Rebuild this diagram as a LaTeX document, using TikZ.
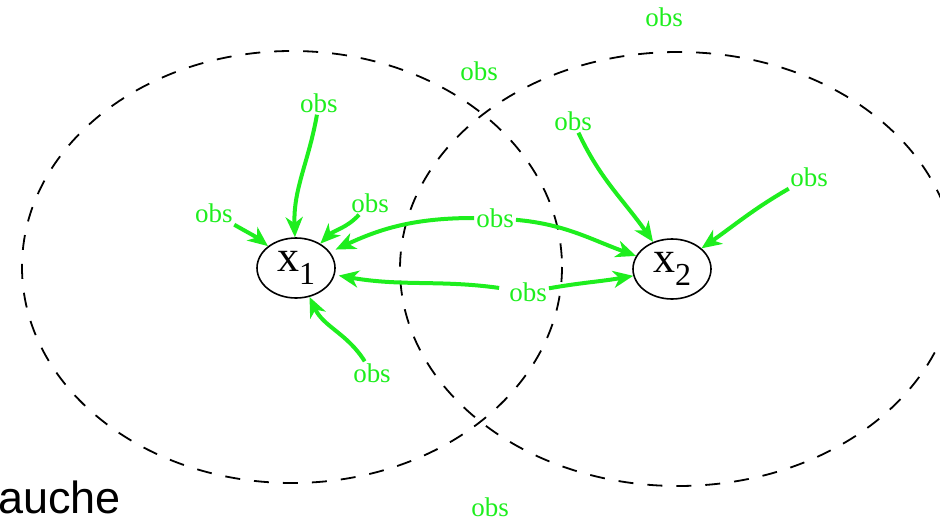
\documentclass[tikz,border=0pt]{standalone}
\usepackage{fontspec}
\setmainfont{Liberation Serif}
\newfontfamily\labelfont{Liberation Sans}
\usetikzlibrary{arrows.meta,shapes.geometric}
\definecolor{obsgreen}{RGB}{30,238,30}
\tikzset{
  var/.style={draw,ellipse,line width=1.6pt,minimum width=78pt,minimum height=60pt,
    inner sep=0pt,font=\fontsize{44}{44}\selectfont},
  obs/.style={text=obsgreen,inner sep=2pt,font=\fontsize{27}{27}\selectfont},
  seen/.style={obsgreen,line width=4pt,-{Stealth[length=20pt,width=17pt,inset=6pt]}},
  zone/.style={dash pattern=on 15pt off 14pt,line width=1.8pt}
}
\begin{document}
\begin{tikzpicture}[x=1pt,y=-1pt]
  \useasboundingbox (0,0) rectangle (940,522);
  \clip (0,0) rectangle (940,522);
  % the two neighbourhoods
  \draw[zone] (292,267) ellipse (270 and 216);
  \draw[zone] (678,269) ellipse (278 and 217);
  \draw
    (296,268) node[var] (x1) {x\raisebox{-0.3em}{\fontsize{32}{32}\selectfont 1}}
    (672,269) node[var] (x2) {x\raisebox{-0.3em}{\fontsize{32}{32}\selectfont 2}};
  \draw
    (319,103) node[obs] (otop) {obs}
    (214,213) node[obs] (oleft) {obs}
    (370,203) node[obs] (oright) {obs}
    (372,373) node[obs] (obelow) {obs}
    (495,218) node[obs] (omidup) {obs}
    (528,292) node[obs] (omidlow) {obs}
    (573,121) node[obs] (otwoup) {obs}
    (809,177) node[obs] (otworight) {obs}
    (664,17) node[obs] (ofar) {obs}
    (479,71) node[obs] (ocross) {obs}
    (490,507) node[obs] (obottom) {obs};
  \node[font=\labelfont\fontsize{45}{45}\selectfont,anchor=base west,inner sep=0pt]
    (gauche) at (-2,513) {auche};
  \begin{scope}[seen]
    \draw (otop) to[out=-100,in=92] (x1);
    \draw (oleft) to[out=-30,in=142] (x1);
    \draw (oright) to[out=-133,in=45] (x1);
    \draw (obelow) to[out=122,in=-65] (x1);
    \draw[shorten >=6pt] (omidup) to[out=180,in=25] (x1);
    \draw (omidup) to[out=-5,in=160] (x2);
    \draw[shorten <=8pt,shorten >=4pt] (omidlow) to[out=172,in=-10] (x1);
    \draw (omidlow) to[out=10,in=190] (x2);
    \draw (otwoup) to[out=-65,in=125] (x2);
    \draw (otworight) to[out=-150,in=35] (x2);
  \end{scope}
\end{tikzpicture}
\end{document}
